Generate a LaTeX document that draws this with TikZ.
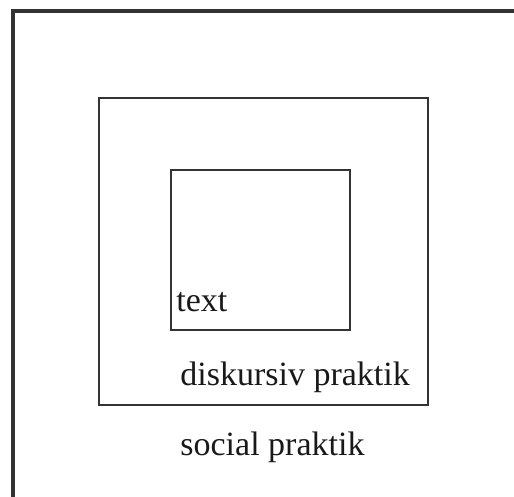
\documentclass[tikz,border=0pt]{standalone}
\usepackage{fontspec}
\setmainfont{Liberation Serif}
\begin{document}
\begin{tikzpicture}[x=0.5pt,y=-0.5pt,
  frame/.style={draw=black!80,line width=#1},
  lbl/.style={anchor=base west,inner sep=0pt,text=black!90,font=\fontsize{17}{20}\selectfont}]
\useasboundingbox (0,0) rectangle (514,497);
\clip (0,0) rectangle (514,497);
% outer frame: social practice (runs past the right and bottom edges)
\draw[frame=1.6pt] (13,540) -- (13,11) -- (560,11);
% middle frame: discursive practice
\draw[frame=1.2pt] (99,98) rectangle (428,405);
% inner frame: text
\draw[frame=1.3pt] (171,170) rectangle (350,330);
\node[lbl] (txt) at (176,312) {text};
\node[lbl] (disk) at (180,386) {diskursiv praktik};
\node[lbl] (soc) at (180,455) {social praktik};
\end{tikzpicture}
\end{document}
